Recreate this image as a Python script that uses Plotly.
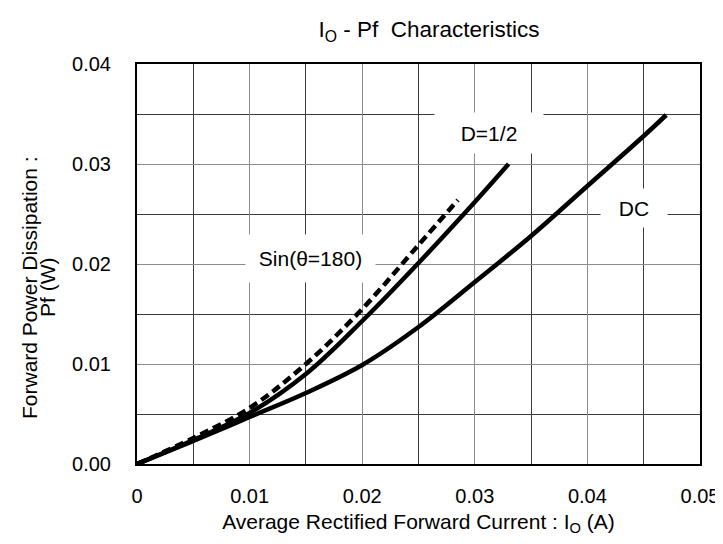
import plotly.graph_objects as go

# curves (Io in A, Pf in W)
x_dc = [0, 0.005, 0.01, 0.015, 0.02, 0.025, 0.03, 0.035, 0.04, 0.045, 0.047]
y_dc = [0, 0.0023, 0.0047, 0.0071, 0.0099, 0.0137, 0.0182, 0.0228, 0.0278, 0.0328, 0.0349]

x_half = [0, 0.005, 0.01, 0.015, 0.02, 0.025, 0.03, 0.033]
y_half = [0, 0.0024, 0.0051, 0.0090, 0.0143, 0.0201, 0.0262, 0.0300]

x_sin = [0, 0.005, 0.01, 0.015, 0.02, 0.025, 0.0285]
y_sin = [0, 0.0026, 0.0056, 0.0100, 0.0155, 0.0219, 0.0264]

x_ticks = [0, 0.01, 0.02, 0.03, 0.04, 0.05]
x_ticklabels = ['0', '0.01', '0.02', '0.03', '0.04', '0.05']

FONT = 'Liberation Sans, Arial, sans-serif'
GRID_MAJOR = '#8c8c8c'
GRID_MINOR = '#3c3c3c'

# page body has an 8px margin, keep the figure inside the window (no scrollbars)
W, H = 715, 528

fig = go.Figure()

fig.add_trace(go.Scatter(x=x_dc, y=y_dc, mode='lines', name='DC',
                         line=dict(color='black', width=4.5, shape='spline')))
fig.add_trace(go.Scatter(x=x_half, y=y_half, mode='lines', name='D=1/2',
                         line=dict(color='black', width=4.5, shape='spline')))
fig.add_trace(go.Scatter(x=x_sin, y=y_sin, mode='lines', name='Sin(θ=180)',
                         line=dict(color='black', width=4.5, shape='spline', dash='9px,5px')))

# curve labels sit on white boxes that cut the grid
labels = [
    ('Sin(θ=180)', 0.01545, 0.0206, 127, 45),
    ('D=1/2', 0.0313, 0.0331, 106, 38),
    ('DC', 0.0441, 0.0256, 64, 36),
]
for txt, lx, ly, w, h in labels:
    fig.add_annotation(x=lx, y=ly, text=txt, showarrow=False,
                       width=w, height=h, bgcolor='white',
                       font=dict(family=FONT, size=21, color='black'))

# y title as two rotated lines (tighter spacing than plotly's <br>)
for txt, px in [('Forward Power Dissipation :', 29), ('Pf (W)', 47)]:
    fig.add_annotation(xref='paper', yref='paper', x=(px - 137) / 563, y=(463 - 287) / 400,
                       text=txt, textangle=-90, showarrow=False,
                       xanchor='center', yanchor='middle',
                       font=dict(family=FONT, size=21, color='black'))

fig.update_layout(
    width=W, height=H,
    margin=dict(l=129, r=23, t=56, b=72),
    paper_bgcolor='white', plot_bgcolor='white',
    showlegend=False,
    font=dict(family=FONT, size=20, color='black'),
    title=dict(text='I<sub>O</sub> - Pf &nbsp;Characteristics', x=(421 / W), xanchor='center',
               y=1 - 21 / H, yanchor='middle', font=dict(size=22.5), automargin=False),
    xaxis=dict(range=[0, 0.05], tickvals=x_ticks, ticktext=x_ticklabels,
               showgrid=True, gridcolor=GRID_MAJOR, gridwidth=1,
               minor=dict(dtick=0.005, showgrid=True, gridcolor=GRID_MINOR, gridwidth=1),
               showline=True, linecolor='black', linewidth=2, mirror=True,
               zeroline=False, ticks='', ticklabelstandoff=13, automargin=False,
               title=dict(text='Average Rectified Forward Current : I<sub>O</sub> (A)',
                          font=dict(size=21), standoff=9)),
    yaxis=dict(range=[0, 0.04], dtick=0.01, tickformat='.2f',
               showgrid=True, gridcolor=GRID_MAJOR, gridwidth=1,
               minor=dict(dtick=0.005, showgrid=True, gridcolor=GRID_MINOR, gridwidth=1),
               showline=True, linecolor='black', linewidth=2, mirror=True,
               zeroline=False, ticks='', ticklabelstandoff=20, automargin=False),
)

fig.write_html('out.html')
